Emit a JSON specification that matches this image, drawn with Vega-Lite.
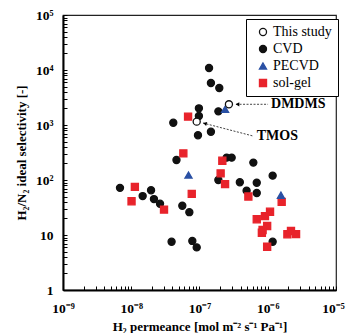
{
  "$schema": "https://vega.github.io/schema/vega-lite/v6.json",
  "autosize": {"type": "none"},
  "padding": {"left": 63, "top": 15, "right": 10, "bottom": 43},
  "width": 273,
  "height": 275,
  "background": "white",
  "config": {
    "view": {"stroke": "#222", "strokeWidth": 1.2},
    "axis": {
      "grid": false,
      "domainColor": "black",
      "domainWidth": 2,
      "tickColor": "black",
      "tickSize": -4,
      "tickWidth": 1,
      "labelFont": "Liberation Serif",
      "labelFontWeight": "bold",
      "labelFontSize": 13.5,
      "labelColor": "black",
      "labelOverlap": false,
      "labelFlush": false,
      "titleFont": "Liberation Serif",
      "titleFontWeight": "bold",
      "titleFontSize": 13,
      "titleColor": "black"
    },
    "legend": {
      "orient": "none",
      "legendX": 183,
      "legendY": 4,
      "strokeColor": "black",
      "fillColor": "white",
      "padding": 6,
      "labelFont": "Liberation Serif",
      "labelFontSize": 14,
      "labelColor": "black",
      "symbolSize": 50,
      "symbolStrokeWidth": 1.3,
      "rowPadding": 3,
      "labelOffset": 3,
      "symbolOffset": 4
    }
  },
  "datasets": {
    "points": [
      {"series": "CVD", "perm": 1.38e-7, "sel": 10870},
      {"series": "CVD", "perm": 1.47e-7, "sel": 5800},
      {"series": "CVD", "perm": 1.95e-7, "sel": 4700},
      {"series": "CVD", "perm": 1.89e-7, "sel": 1770},
      {"series": "CVD", "perm": 9.8e-8, "sel": 2010},
      {"series": "CVD", "perm": 9.8e-8, "sel": 1460},
      {"series": "CVD", "perm": 4.13e-8, "sel": 1100},
      {"series": "CVD", "perm": 9.5e-8, "sel": 650},
      {"series": "CVD", "perm": 1.47e-7, "sel": 755},
      {"series": "CVD", "perm": 4.6e-8, "sel": 231},
      {"series": "CVD", "perm": 2.5e-7, "sel": 255},
      {"series": "CVD", "perm": 2.96e-7, "sel": 255},
      {"series": "CVD", "perm": 6.15e-7, "sel": 207},
      {"series": "CVD", "perm": 1.18e-6, "sel": 120},
      {"series": "CVD", "perm": 1.89e-7, "sel": 100},
      {"series": "CVD", "perm": 3.9e-7, "sel": 91},
      {"series": "CVD", "perm": 6.9e-7, "sel": 89},
      {"series": "CVD", "perm": 4.9e-7, "sel": 64},
      {"series": "CVD", "perm": 6.9e-7, "sel": 58},
      {"series": "CVD", "perm": 6.84e-9, "sel": 72},
      {"series": "CVD", "perm": 1.47e-8, "sel": 51},
      {"series": "CVD", "perm": 1.95e-8, "sel": 65},
      {"series": "CVD", "perm": 2.15e-8, "sel": 45},
      {"series": "CVD", "perm": 2.64e-8, "sel": 37},
      {"series": "CVD", "perm": 5.6e-8, "sel": 34},
      {"series": "CVD", "perm": 7.1e-8, "sel": 26},
      {"series": "CVD", "perm": 3.9e-8, "sel": 7.55},
      {"series": "CVD", "perm": 7.85e-8, "sel": 7.8},
      {"series": "CVD", "perm": 9.1e-8, "sel": 5.95},
      {"series": "CVD", "perm": 1.18e-6, "sel": 7.55},
      {"series": "sol-gel", "perm": 6.8e-8, "sel": 1420},
      {"series": "sol-gel", "perm": 5.8e-8, "sel": 305},
      {"series": "sol-gel", "perm": 2.16e-7, "sel": 224},
      {"series": "sol-gel", "perm": 2.04e-7, "sel": 132},
      {"series": "sol-gel", "perm": 2.37e-7, "sel": 84},
      {"series": "sol-gel", "perm": 5.2e-7, "sel": 50},
      {"series": "sol-gel", "perm": 1.6e-6, "sel": 40},
      {"series": "sol-gel", "perm": 1.13e-8, "sel": 75},
      {"series": "sol-gel", "perm": 1.01e-8, "sel": 41},
      {"series": "sol-gel", "perm": 3.02e-8, "sel": 29},
      {"series": "sol-gel", "perm": 7.7e-8, "sel": 56},
      {"series": "sol-gel", "perm": 6.9e-7, "sel": 19.3},
      {"series": "sol-gel", "perm": 9.1e-7, "sel": 22},
      {"series": "sol-gel", "perm": 1.08e-6, "sel": 26.5},
      {"series": "sol-gel", "perm": 9.8e-7, "sel": 14.6},
      {"series": "sol-gel", "perm": 8.4e-7, "sel": 12.3},
      {"series": "sol-gel", "perm": 8.2e-7, "sel": 11},
      {"series": "sol-gel", "perm": 1.94e-6, "sel": 10.3},
      {"series": "sol-gel", "perm": 2.19e-6, "sel": 11.8},
      {"series": "sol-gel", "perm": 2.6e-6, "sel": 10.4},
      {"series": "sol-gel", "perm": 9.8e-7, "sel": 6.1},
      {"series": "PECVD", "perm": 2.37e-7, "sel": 1930},
      {"series": "PECVD", "perm": 6.9e-8, "sel": 123},
      {"series": "PECVD", "perm": 1.56e-6, "sel": 53},
      {"series": "This study", "perm": 2.7e-7, "sel": 2380},
      {"series": "This study", "perm": 9.1e-8, "sel": 1150}
    ],
    "labels": [
      {"label": "DMDMS", "perm": 1.117e-6, "sel": 2380},
      {"label": "TMOS", "perm": 6.89e-7, "sel": 631}
    ],
    "leaders": [
      {"perm": 3.43e-7, "sel": 2380, "perm2": 1.01e-6, "sel2": 2380},
      {"perm": 1.125e-7, "sel": 1087, "perm2": 6.08e-7, "sel2": 631}
    ],
    "heads": [
      {"perm": 3.6e-7, "sel": 2380, "ang": 0},
      {"perm": 1.2e-7, "sel": 1064, "ang": 15}
    ]
  },
  "layer": [
    {
      "data": {"name": "leaders"},
      "mark": {"type": "rule", "strokeDash": [2, 1.5], "strokeWidth": 1, "color": "#444"},
      "encoding": {
        "x": {"field": "perm", "type": "quantitative", "scale": {"type": "log", "domain": [1e-9, 1e-5]}},
        "y": {"field": "sel", "type": "quantitative", "scale": {"type": "log", "domain": [1, 100000]}},
        "x2": {"field": "perm2"},
        "y2": {"field": "sel2"}
      }
    },
    {
      "data": {"name": "heads"},
      "mark": {"type": "point", "shape": "triangle-left", "filled": true, "color": "black", "size": 18, "opacity": 1},
      "encoding": {
        "x": {"field": "perm", "type": "quantitative"},
        "y": {"field": "sel", "type": "quantitative"},
        "angle": {"field": "ang", "type": "quantitative", "scale": null}
      }
    },
    {
      "data": {"name": "labels"},
      "mark": {"type": "text", "align": "left", "baseline": "middle", "font": "Liberation Serif", "fontWeight": "bold", "fontSize": 14, "color": "black"},
      "encoding": {
        "x": {"field": "perm", "type": "quantitative"},
        "y": {"field": "sel", "type": "quantitative"},
        "text": {"field": "label"}
      }
    },
    {
      "data": {"name": "points"},
      "mark": {"type": "point", "size": 50, "strokeWidth": 1.3, "opacity": 1},
      "encoding": {
        "x": {
          "field": "perm", "type": "quantitative",
          "scale": {"type": "log", "domain": [1e-9, 1e-5]},
          "axis": {
            "title": "H₂ permeance [mol m⁻² s⁻¹ Pa⁻¹]",
            "titlePadding": 6,
            "labelPadding": 15,
            "labelOffset": {"expr": "datum.value > 5e-6 ? -3 : 0"},
            "values": [1e-9, 2e-9, 3e-9, 4e-9, 5e-9, 6e-9, 7e-9, 8e-9, 9e-9, 1e-8, 2e-8, 3e-8, 4e-8, 5e-8, 6e-8, 7e-8, 8e-8, 9e-8, 1e-7, 2e-7, 3e-7, 4e-7, 5e-7, 6e-7, 7e-7, 8e-7, 9e-7, 1e-6, 2e-6, 3e-6, 4e-6, 5e-6, 6e-6, 7e-6, 8e-6, 9e-6, 1e-5],
            "labelExpr": "abs(log(datum.value)/LN10 - round(log(datum.value)/LN10)) < 0.001 ? '10' + ['⁻⁹','⁻⁸','⁻⁷','⁻⁶','⁻⁵'][round(log(datum.value)/LN10) + 9] : ''"
          }
        },
        "y": {
          "field": "sel", "type": "quantitative",
          "scale": {"type": "log", "domain": [1, 100000]},
          "axis": {
            "title": "H₂/N₂ ideal selectivity [-]",
            "titlePadding": 7,
            "labelPadding": 14,
            "values": [1, 2, 3, 4, 5, 6, 7, 8, 9, 10, 20, 30, 40, 50, 60, 70, 80, 90, 100, 200, 300, 400, 500, 600, 700, 800, 900, 1000, 2000, 3000, 4000, 5000, 6000, 7000, 8000, 9000, 10000, 20000, 30000, 40000, 50000, 60000, 70000, 80000, 90000, 100000],
            "labelExpr": "abs(log(datum.value)/LN10 - round(log(datum.value)/LN10)) < 0.001 ? ['1','10','10²','10³','10⁴','10⁵'][round(log(datum.value)/LN10)] : ''"
          }
        },
        "shape": {
          "field": "series", "type": "nominal",
          "scale": {"domain": ["This study", "CVD", "PECVD", "sol-gel"], "range": ["circle", "circle", "triangle-up", "square"]},
          "legend": {"title": null}
        },
        "fill": {
          "field": "series", "type": "nominal",
          "scale": {"domain": ["This study", "CVD", "PECVD", "sol-gel"], "range": ["white", "#111111", "#2a50a4", "#e8232b"]},
          "legend": {"title": null}
        },
        "stroke": {
          "field": "series", "type": "nominal",
          "scale": {"domain": ["This study", "CVD", "PECVD", "sol-gel"], "range": ["#111111", "#111111", "#2a50a4", "#e8232b"]},
          "legend": {"title": null}
        }
      }
    }
  ]
}
